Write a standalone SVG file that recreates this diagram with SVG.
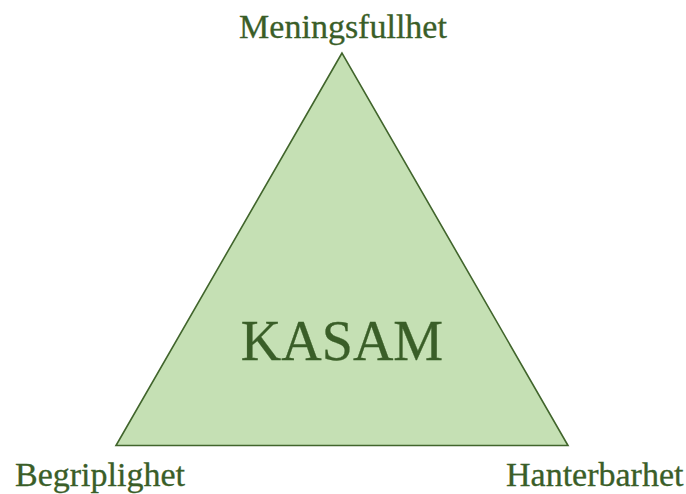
<svg xmlns="http://www.w3.org/2000/svg" width="686" height="494" viewBox="0 0 686 494">
  <style>
    .label { font-family: "Liberation Serif", "Times New Roman", serif; fill: #3a5e28; stroke: #3a5e28; stroke-width: 0.3; }
    .corner { font-size: 34px; }
    .center { font-size: 56px; text-anchor: middle; }
  </style>
  <rect width="686" height="494" fill="#ffffff"/>
  <g id="triangle">
    <polygon points="342,53 116,445.5 568,445.5" fill="#c5e0b4" stroke="#41652c" stroke-width="1.6" stroke-linejoin="miter"/>
    <text class="label center" x="342" y="360">KASAM</text>
  </g>
  <g id="meningsfullhet">
    <text class="label corner" x="343" y="38" text-anchor="middle">Meningsfullhet</text>
  </g>
  <g id="begriplighet">
    <text class="label corner" x="15" y="486">Begriplighet</text>
  </g>
  <g id="hanterbarhet">
    <text class="label corner" x="506" y="486">Hanterbarhet</text>
  </g>
</svg>
